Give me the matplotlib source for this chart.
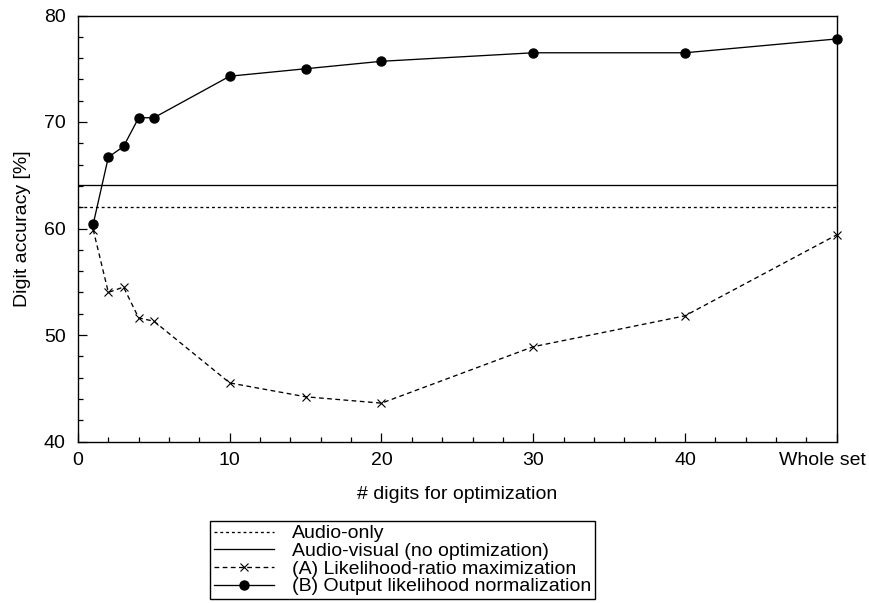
import matplotlib
matplotlib.use('Agg')
import matplotlib.pyplot as plt
from matplotlib.ticker import MultipleLocator
from matplotlib.transforms import ScaledTranslation

plt.rcParams['font.family'] = ['Liberation Sans', 'DejaVu Sans']

# x positions: "Whole set" drawn at 50
digits = [1, 2, 3, 4, 5, 10, 15, 20, 30, 40, 50]
x_ticks = [0, 10, 20, 30, 40, 50]
x_ticklabels = ['0', '10', '20', '30', '40', 'Whole set']
y_ticks = [40, 50, 60, 70, 80]

audio_only = 62.0
audio_visual = 64.1
lr_max = [59.9, 54.0, 54.5, 51.6, 51.3, 45.5, 44.2, 43.6, 48.9, 51.8, 59.4]
out_norm = [60.4, 66.7, 67.7, 70.4, 70.4, 74.3, 75.0, 75.7, 76.5, 76.5, 77.8]

labels = ['Audio-only', 'Audio-visual (no optimization)',
          '(A) Likelihood-ratio maximization', '(B) Output likelihood normalization']

fs = 14

fig = plt.figure(figsize=(8.69, 6.03), dpi=100)
ax = fig.add_axes([78 / 869, 1 - 441.5 / 603, (836.7 - 78) / 869, (441.5 - 15.5) / 603])

lw = 0.95
l1, = ax.plot([0, 50], [audio_only, audio_only], color='black', lw=lw, dashes=(2.2, 2.2))
l2, = ax.plot([0, 50], [audio_visual, audio_visual], color='black', lw=lw)
l3, = ax.plot(digits, lr_max, color='black', lw=lw, dashes=(3.6, 2.6), marker='x',
              markersize=6, markeredgewidth=0.8, clip_on=False)
l4, = ax.plot(digits, out_norm, color='black', lw=lw, marker='o', markersize=6.5,
              clip_on=False)

ax.set_xlim(0, 50)
ax.set_ylim(40, 80)
ax.set_xticks(x_ticks)
ax.set_xticklabels(x_ticklabels)
ax.xaxis.set_minor_locator(MultipleLocator(2))
ax.set_yticks(y_ticks)
ax.yaxis.set_minor_locator(MultipleLocator(2))
ax.tick_params(which='both', direction='in', top=False, right=False, labelsize=fs, width=0.9)
ax.tick_params(which='major', length=6.5)
ax.tick_params(which='minor', length=3.3)
ax.tick_params(axis='x', which='major', pad=7.5)
ax.tick_params(axis='y', which='major', pad=9)
for s in ax.spines.values():
    s.set_linewidth(1.0)

# "Whole set" sits pulled in so it fits inside the figure
last = ax.get_xticklabels()[-1]
last.set_transform(last.get_transform() + ScaledTranslation(-0.14, 0, fig.dpi_scale_trans))

ax.set_xlabel('# digits for optimization', fontsize=fs, labelpad=12)
ax.set_ylabel('Digit accuracy [%]', fontsize=fs, labelpad=9)

leg = fig.legend([l1, l2, l3, l4], labels, loc='upper left',
                 bbox_to_anchor=(210 / 869, 1 - 521 / 603), fontsize=fs,
                 fancybox=False, edgecolor='black', framealpha=1,
                 borderpad=0.2, labelspacing=0.0, handlelength=3.1,
                 handletextpad=0.9, borderaxespad=0)
leg.get_frame().set_linewidth(1.0)

plt.savefig('out.png', dpi=100)
